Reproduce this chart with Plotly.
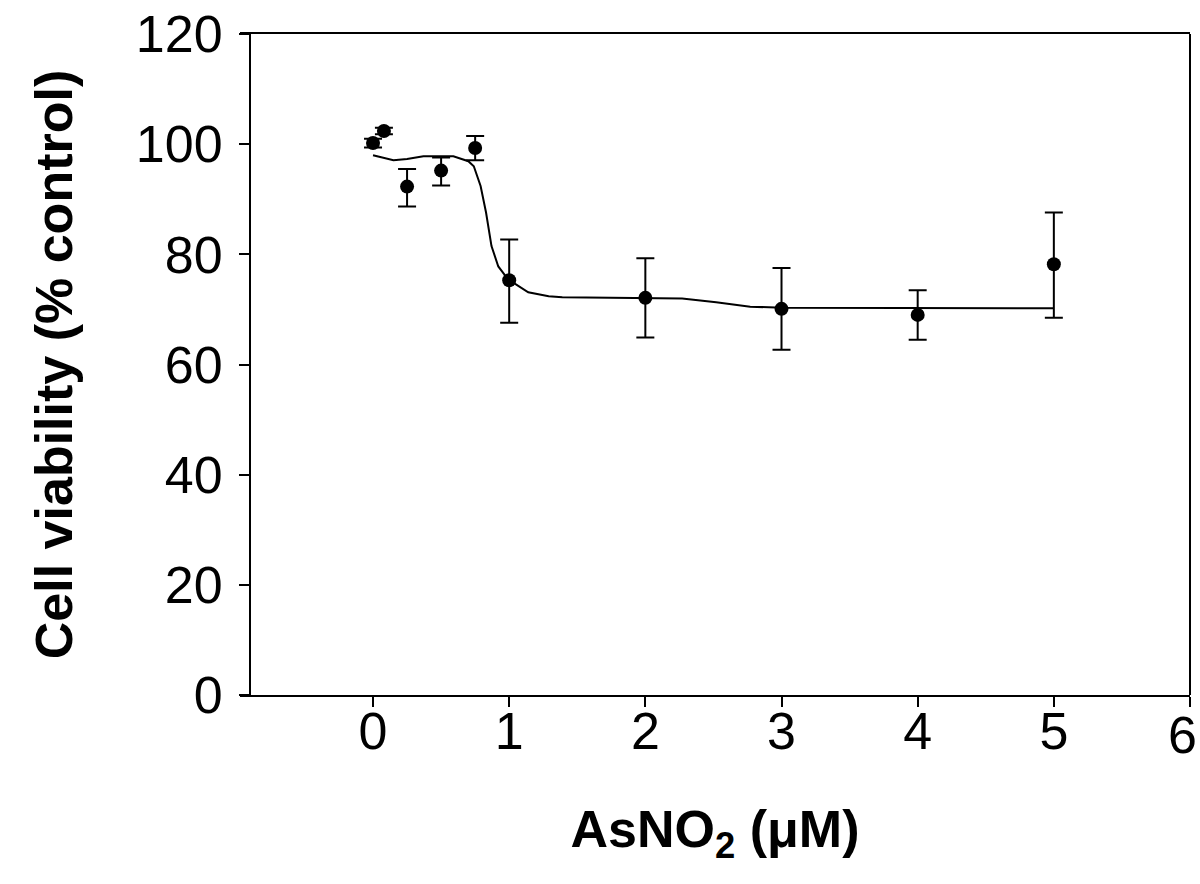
import plotly.graph_objects as go

# measured points (mean +/- error)
dose = [0, 0.08, 0.25, 0.5, 0.75, 1, 2, 3, 4, 5]
viability = [100.2, 102.4, 92.3, 95.2, 99.3, 75.3, 72.1, 70.1, 69.0, 78.2]
err_up = [0.8, 0.6, 3.2, 2.4, 2.2, 7.4, 7.2, 7.4, 4.5, 9.4]
err_down = [0.8, 0.6, 3.6, 2.7, 2.2, 7.7, 7.2, 7.4, 4.5, 9.7]

# fitted curve
fit_x = [0, 0.15, 0.25, 0.37, 0.59, 0.70, 0.74, 0.79, 0.83, 0.87, 0.92, 0.99,
         1.14, 1.29, 1.39, 2.0, 2.27, 2.52, 2.77, 3.01, 4.0, 5.0]
fit_y = [98.0, 97.1, 97.3, 97.8, 97.8, 96.9, 96.0, 92.4, 87.6, 81.5, 77.8, 75.5,
         73.1, 72.4, 72.2, 72.1, 72.0, 71.3, 70.5, 70.3, 70.2, 70.2]

x_ticks = [0, 1, 2, 3, 4, 5, 6]
y_ticks = [0, 20, 40, 60, 80, 100, 120]

font = "Liberation Sans, Arial, sans-serif"

fig = go.Figure()
fig.add_trace(go.Scatter(x=fit_x, y=fit_y, mode="lines",
                         line=dict(color="black", width=2), hoverinfo="skip"))
fig.add_trace(go.Scatter(
    x=dose, y=viability, mode="markers",
    marker=dict(color="black", size=14, symbol="circle"),
    error_y=dict(type="data", symmetric=False, array=err_up, arrayminus=err_down,
                 color="black", thickness=2, width=9),
))

# right border of the frame
fig.add_shape(type="line", xref="paper", yref="paper", x0=1, x1=1, y0=0, y1=1,
              line=dict(color="black", width=2))

# last x label sits at the frame edge, nudged inwards like the original
x_labels = [str(v) for v in x_ticks[:-1]] + [""]
fig.add_annotation(x=x_ticks[-1], y=0, xref="x", yref="paper", text=str(x_ticks[-1]),
                   showarrow=False, xanchor="center", yanchor="middle",
                   xshift=-8, yshift=-40, font=dict(size=52))

fig.update_layout(
    width=1200, height=884,
    margin=dict(l=240, r=10, t=34, b=189),
    plot_bgcolor="white", paper_bgcolor="white",
    showlegend=False,
    font=dict(family=font, size=52, color="black"),
    xaxis=dict(range=[-0.977, 6], tickvals=x_ticks, ticktext=x_labels,
               showline=True, mirror=True, linecolor="black", linewidth=2,
               ticks="outside", ticklen=10, tickwidth=2, tickcolor="black",
               showgrid=False, zeroline=False, automargin=False,
               ticklabeloverflow="allow", ticklabelstandoff=-20,
               title=dict(text="<b>AsNO<sub>2</sub> (μM)</b>", standoff=51,
                          font=dict(size=52))),
    yaxis=dict(range=[0, 120], tickvals=y_ticks,
               anchor="free", position=10 / 950,
               showline=True, linecolor="black", linewidth=2,
               ticks="outside", ticklen=10, tickwidth=2, tickcolor="black",
               showgrid=False, zeroline=False, automargin=False,
               ticklabeloverflow="allow", ticklabelstandoff=6,
               title=dict(text="<b>Cell viability (% control)</b>", standoff=46,
                          font=dict(size=52))),
)

# drop the default body margin so the figure fills the window
fig.write_html("out.html", config={"displayModeBar": False},
               post_script="document.body.style.margin = '0';")
